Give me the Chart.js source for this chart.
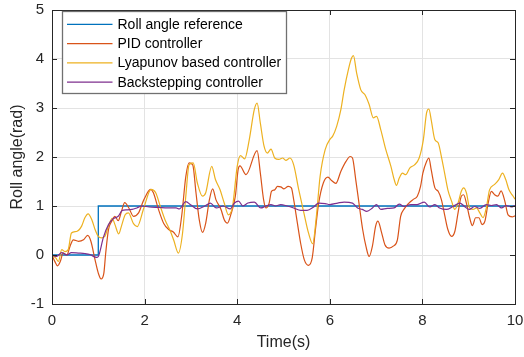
<!DOCTYPE html>
<html>
<head>
<meta charset="utf-8">
<script src="https://cdn.jsdelivr.net/npm/chart.js@4.4.0/dist/chart.umd.min.js"></script>
<style>
  html, body { margin: 0; padding: 0; background: #fff; }
  #wrap { width: 524px; height: 357px; }
</style>
</head>
<body>
<div id="wrap"><canvas id="myChart" width="524" height="357"></canvas></div>
<script>
// values
var refTime = [0, 1, 1, 10];
var refValues = [0, 0, 1, 1];

var pidTime = [0, 0.06, 0.12, 0.18, 0.24, 0.32, 0.39, 0.46, 0.57, 0.68, 0.77, 0.84, 0.93, 1.0, 1.06, 1.12, 1.16, 1.22, 1.29, 1.36, 1.43, 1.5, 1.57, 1.66, 1.76, 1.87, 1.98, 2.13, 2.19, 2.3, 2.41, 2.52, 2.62, 2.72, 2.8, 2.89, 2.96, 3.04, 3.11, 3.18, 3.25, 3.32, 3.4, 3.47, 3.54, 3.65, 3.72, 3.79, 3.86, 3.96, 4.02, 4.06, 4.19, 4.43, 4.5, 4.57, 4.62, 4.69, 4.74, 4.81, 4.87, 4.94, 5.01, 5.1, 5.17, 5.22, 5.3, 5.37, 5.45, 5.54, 5.62, 5.69, 5.76, 5.86, 5.96, 6.04, 6.13, 6.24, 6.35, 6.44, 6.49, 6.56, 6.63, 6.71, 6.78, 6.85, 6.92, 6.99, 7.04, 7.12, 7.19, 7.28, 7.37, 7.46, 7.53, 7.6, 7.71, 7.81, 7.89, 7.96, 8.01, 8.09, 8.14, 8.19, 8.27, 8.34, 8.41, 8.48, 8.55, 8.63, 8.7, 8.77, 8.84, 8.89, 8.95, 9.02, 9.08, 9.15, 9.22, 9.29, 9.35, 9.42, 9.49, 9.56, 9.63, 9.7, 9.78, 9.85, 9.94, 10];
var pidValues = [0, -0.13, -0.22, -0.13, 0.04, 0.0, 0.18, 0.31, 0.28, 0.31, 0.4, 0.28, -0.1, -0.37, -0.49, -0.37, 0.04, 0.52, 0.69, 0.79, 0.7, 0.89, 1.07, 0.96, 0.79, 0.86, 1.12, 1.34, 1.27, 0.93, 0.65, 0.52, 0.47, 0.37, 0.79, 1.6, 1.88, 1.84, 1.27, 0.72, 0.46, 0.65, 1.13, 1.35, 1.13, 0.93, 0.72, 0.65, 0.82, 1.2, 1.74, 1.82, 1.64, 2.13, 1.67, 1.13, 0.96, 1.06, 1.3, 1.33, 1.4, 1.39, 1.35, 1.4, 1.37, 1.13, 0.65, 0.24, -0.1, -0.21, -0.06, 0.52, 1.06, 1.47, 1.59, 1.52, 1.46, 1.71, 1.91, 2.01, 1.98, 1.54, 1.06, 0.52, 0.18, -0.03, 0.18, 0.59, 0.69, 0.45, 0.21, 0.14, 0.18, 0.31, 0.79, 0.93, 1.06, 1.14, 1.2, 1.4, 1.67, 1.91, 1.98, 1.74, 1.37, 1.3, 1.13, 0.82, 0.52, 0.38, 0.48, 0.86, 1.2, 1.23, 1.06, 0.76, 0.6, 0.76, 0.76, 0.62, 0.69, 1.06, 1.3, 1.23, 1.2, 1.31, 1.1, 0.82, 0.78, 0.8];

var lyapTime = [0, 0.08, 0.14, 0.21, 0.28, 0.35, 0.42, 0.53, 0.64, 0.71, 0.78, 0.86, 0.93, 1.0, 1.07, 1.14, 1.23, 1.3, 1.36, 1.44, 1.5, 1.58, 1.65, 1.76, 1.84, 1.98, 2.14, 2.24, 2.34, 2.44, 2.55, 2.63, 2.73, 2.82, 2.89, 2.96, 3.05, 3.14, 3.25, 3.32, 3.45, 3.53, 3.63, 3.72, 3.81, 3.9, 4.0, 4.07, 4.16, 4.26, 4.37, 4.43, 4.5, 4.58, 4.65, 4.73, 4.81, 4.9, 4.98, 5.05, 5.14, 5.22, 5.33, 5.44, 5.54, 5.63, 5.71, 5.79, 5.9, 6.01, 6.06, 6.15, 6.24, 6.31, 6.4, 6.47, 6.51, 6.58, 6.67, 6.76, 6.85, 6.94, 7.01, 7.1, 7.21, 7.32, 7.39, 7.44, 7.5, 7.57, 7.64, 7.73, 7.83, 7.93, 8.02, 8.09, 8.14, 8.19, 8.27, 8.34, 8.41, 8.48, 8.55, 8.63, 8.7, 8.77, 8.84, 8.89, 8.95, 9.02, 9.09, 9.17, 9.24, 9.31, 9.38, 9.45, 9.56, 9.65, 9.73, 9.8, 9.87, 9.96, 10];
var lyapValues = [0, -0.06, -0.13, 0.11, 0.07, 0.11, 0.45, 0.48, 0.59, 0.76, 0.84, 0.72, 0.52, 0.38, 0.35, 0.38, 0.62, 0.75, 0.62, 0.43, 0.59, 0.82, 0.86, 0.64, 0.58, 0.95, 1.34, 1.27, 0.99, 0.72, 0.5, 0.3, 0.04, 0.45, 1.2, 1.84, 1.88, 1.47, 1.2, 1.27, 1.81, 1.54, 1.33, 1.06, 0.82, 0.99, 1.81, 2.03, 1.96, 2.35, 2.97, 3.1, 2.69, 2.22, 2.08, 2.16, 1.98, 1.95, 1.98, 1.93, 1.98, 1.84, 1.33, 0.86, 0.45, 0.23, 0.79, 1.6, 2.15, 2.37, 2.42, 2.63, 2.97, 3.37, 3.78, 4.02, 4.07, 3.71, 3.37, 3.27, 3.07, 2.8, 2.83, 2.56, 2.15, 1.81, 1.54, 1.42, 1.57, 1.67, 1.64, 1.78, 1.84, 1.98, 2.35, 2.9, 2.98, 2.76, 2.35, 2.29, 2.01, 1.67, 1.33, 1.1, 0.93, 1.06, 1.3, 1.37, 1.27, 0.96, 0.93, 0.96, 0.86, 0.76, 0.96, 1.33, 1.44, 1.54, 1.67, 1.54, 1.33, 1.2, 1.14];

var backTime = [0, 0.1, 0.21, 0.32, 0.42, 0.57, 0.71, 0.82, 0.96, 1.0, 1.11, 1.22, 1.32, 1.43, 1.52, 1.61, 1.73, 1.83, 1.94, 2.1, 2.3, 2.5, 2.68, 2.75, 2.89, 3.0, 3.14, 3.3, 3.42, 3.55, 3.7, 3.85, 3.94, 4.03, 4.12, 4.23, 4.37, 4.51, 4.62, 4.73, 4.83, 4.94, 5.08, 5.22, 5.37, 5.51, 5.65, 5.76, 5.9, 6.0, 6.17, 6.31, 6.49, 6.6, 6.7, 6.8, 6.92, 7.01, 7.1, 7.24, 7.39, 7.5, 7.6, 7.75, 7.89, 8.04, 8.16, 8.27, 8.37, 8.52, 8.66, 8.81, 8.91, 9.01, 9.13, 9.24, 9.38, 9.49, 9.6, 9.71, 9.81, 9.92, 10];
var backValues = [0, -0.03, 0.05, 0.0, 0.05, 0.04, 0.03, 0.01, -0.05, -0.03, 0.36, 0.62, 0.74, 0.79, 0.91, 0.92, 0.93, 0.96, 1.0, 0.98, 0.97, 0.96, 0.96, 0.94, 1.09, 1.02, 0.94, 1.0, 1.06, 0.96, 1.0, 0.94, 1.06, 1.1, 1.0, 1.06, 1.08, 0.96, 1.0, 1.03, 1.0, 1.03, 1.0, 0.96, 0.91, 0.91, 0.98, 1.06, 1.05, 1.03, 1.06, 1.08, 1.06, 0.96, 0.93, 0.89, 0.96, 1.03, 0.93, 0.95, 0.96, 1.04, 0.99, 1.03, 1.03, 1.08, 0.98, 1.03, 0.96, 0.93, 0.99, 1.06, 0.99, 0.93, 0.99, 0.95, 1.03, 1.01, 1.03, 0.96, 1.01, 0.98, 1.01];

var xTicks = [0, 2, 4, 6, 8, 10];
var yTicks = [-1, 0, 1, 2, 3, 4, 5];

var labels = ["Roll angle reference", "PID controller", "Lyapunov based controller", "Backstepping controller"];
var colors = ["#0072BD", "#D95319", "#EDB120", "#7E2F8E"];

function toPoints(t, v) {
  var pts = [];
  for (var i = 0; i < t.length; i++) {
    pts.push({x: t[i], y: v[i]});
  }
  return pts;
}

var fontFamily = "'Liberation Sans', Arial, Helvetica, sans-serif";
var axisColor = "#262626";

// box round the plot with inward ticks on all four sides, then the legend
var boxPlugin = {
  id: "boxPlugin",
  afterDraw: function(chart) {
    var ctx = chart.ctx;
    var a = chart.chartArea;
    var xs = chart.scales.x, ys = chart.scales.y;
    var i, p;
    ctx.save();
    ctx.strokeStyle = axisColor;
    ctx.lineWidth = 1;
    ctx.strokeRect(Math.round(a.left) + 0.5, Math.round(a.top) + 0.5,
      Math.round(a.right - a.left), Math.round(a.bottom - a.top));
    ctx.beginPath();
    for (i = 0; i < xTicks.length; i++) {
      p = Math.round(xs.getPixelForValue(xTicks[i])) + 0.5;
      ctx.moveTo(p, a.bottom); ctx.lineTo(p, a.bottom - 5);
      ctx.moveTo(p, a.top); ctx.lineTo(p, a.top + 5);
    }
    for (i = 0; i < yTicks.length; i++) {
      p = Math.round(ys.getPixelForValue(yTicks[i])) + 0.5;
      ctx.moveTo(a.left, p); ctx.lineTo(a.left + 5, p);
      ctx.moveTo(a.right, p); ctx.lineTo(a.right - 5, p);
    }
    ctx.stroke();

    // legend
    var lx = Math.round(a.left) + 10.5, ly = Math.round(a.top) + 1.5;
    var lw = 224, lh = 82;
    ctx.fillStyle = "#fff";
    ctx.fillRect(lx, ly, lw, lh);
    ctx.strokeStyle = "#707070";
    ctx.lineWidth = 1.3;
    ctx.strokeRect(lx, ly, lw, lh);
    ctx.font = "14px " + fontFamily;
    ctx.textBaseline = "middle";
    ctx.textAlign = "left";
    for (i = 0; i < labels.length; i++) {
      var ry = ly + 12.8 + i * 19.3;
      ctx.strokeStyle = colors[i];
      ctx.lineWidth = 1.2;
      ctx.beginPath();
      ctx.moveTo(lx + 4.5, ry); ctx.lineTo(lx + 50, ry);
      ctx.stroke();
      ctx.fillStyle = "#000";
      ctx.fillText(labels[i], lx + 55, ry + 0.5);
    }
    ctx.restore();
  }
};

var ctx = document.getElementById("myChart");
var myChart = new Chart(ctx, {
  type: "line",
  data: {
    datasets: [
      {label: labels[0], data: toPoints(refTime, refValues), borderColor: colors[0], borderWidth: 1.3, order: 4},
      {label: labels[1], data: toPoints(pidTime, pidValues), borderColor: colors[1], borderWidth: 1.2, order: 3, cubicInterpolationMode: "monotone"},
      {label: labels[2], data: toPoints(lyapTime, lyapValues), borderColor: colors[2], borderWidth: 1.2, order: 2, cubicInterpolationMode: "monotone"},
      {label: labels[3], data: toPoints(backTime, backValues), borderColor: colors[3], borderWidth: 1.2, order: 1, cubicInterpolationMode: "monotone"}
    ]
  },
  options: {
    responsive: false,
    animation: false,
    devicePixelRatio: 1,
    layout: {padding: {left: 0, right: 9, top: 10, bottom: 0}},
    elements: {point: {radius: 0}, line: {fill: false}},
    plugins: {legend: {display: false}, tooltip: {enabled: false}},
    scales: {
      x: {
        type: "linear",
        min: 0, max: 10,
        afterBuildTicks: function(s) { s.ticks = xTicks.map(function(v) { return {value: v}; }); },
        afterFit: function(s) { s.height = 53; s.paddingLeft = 0; s.paddingRight = 0; },
        grid: {color: "#e3e3e3", drawTicks: false},
        border: {display: false},
        ticks: {color: axisColor, padding: 8, maxRotation: 0, font: {size: 15, family: fontFamily}},
        title: {display: true, text: "Time(s)", color: axisColor, padding: {top: 0, bottom: 4.5}, font: {size: 16, family: fontFamily}}
      },
      y: {
        min: -1, max: 5,
        afterBuildTicks: function(s) { s.ticks = yTicks.map(function(v) { return {value: v}; }); },
        afterFit: function(s) { s.width = 52; s.paddingTop = 0; s.paddingBottom = 0; },
        grid: {color: "#e3e3e3", drawTicks: false},
        border: {display: false},
        ticks: {color: axisColor, padding: 8, font: {size: 15, family: fontFamily}},
        title: {display: true, text: "Roll angle(rad)", color: axisColor, padding: {top: 7.5, bottom: 0}, font: {size: 16, family: fontFamily}}
      }
    }
  },
  plugins: [boxPlugin]
});
</script>
</body>
</html>
